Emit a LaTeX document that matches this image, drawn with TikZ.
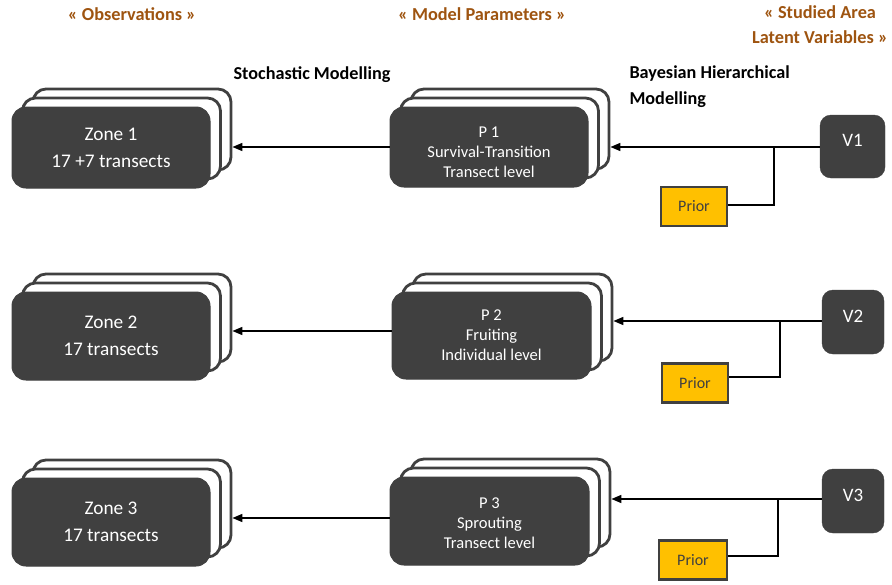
\documentclass[tikz,border=0pt]{standalone}
\usepackage{fontspec}
\setmainfont{Carlito}
\usetikzlibrary{arrows.meta}
\definecolor{dk}{HTML}{404040}
\definecolor{hd}{HTML}{9E5410}
\definecolor{pr}{HTML}{FFC000}
\tikzset{
 backbox/.style={draw=dk, fill=white, line width=2.8pt, rounded corners=13pt, inner sep=0pt},
 frontbox/.style={draw=dk, fill=dk, line width=1pt, rounded corners=14pt, text=white, align=center, inner sep=0pt},
 ztext/.style={font=\fontsize{19.3}{27}\selectfont},
 ptext/.style={font=\fontsize{16.5}{20}\selectfont},
 vbox/.style={draw=dk, fill=dk, rounded corners=11pt, text=white, font=\fontsize{19}{23}\selectfont, minimum width=62pt, minimum height=64pt, inner sep=0pt, text depth=12pt},
 priorbox/.style={draw=dk, fill=pr, line width=2.4pt, text=dk, font=\fontsize{16}{18}\selectfont, minimum width=66pt, minimum height=39pt, inner sep=0pt},
 conn/.style={line width=1.5pt, black},
 arr/.style={conn, -{Triangle[length=10pt,width=8pt]}},
 head/.style={text=hd, font=\bfseries\fontsize{18.3}{25}\selectfont, align=center},
 lab/.style={font=\bfseries\fontsize{18.2}{26}\selectfont, align=left},
}
\newcommand\mystack[7]{%
 \node[backbox, minimum width=#4pt, minimum height=#5pt] (#1c) at (#2+21,#3-18) {};
 \node[backbox, minimum width=#4pt, minimum height=#5pt] (#1b) at (#2+10.5,#3-9) {};
 \node[frontbox, minimum width=#4pt, minimum height=#5pt, #6] (#1) at (#2,#3) {#7};
}
\begin{document}
\begin{tikzpicture}[x=1pt,y=-1pt]
\useasboundingbox (0,0) rectangle (892,584);
% headings
\node[head] (h1) at (132,14) {« Observations »};
\node[head] (h2) at (482,14) {« Model Parameters »};
\node[head] (h3) at (820,25) {« Studied Area\\Latent Variables »};
\node[lab] (l1) at (312,75) {Stochastic Modelling};
\node[lab, anchor=west] (l2) at (626,87) {Bayesian Hierarchical\\Modelling};
% stacks
\mystack{z1}{111}{147.5}{198}{81}{ztext}{Zone 1\\17 +7 transects}
\mystack{p1}{489}{147}{198}{80}{ptext, text height=62pt}{P 1\\Survival-Transition\\Transect level}
\mystack{z2}{111}{336}{198}{88}{ztext}{Zone 2\\17 transects}
\mystack{p2}{491.5}{335.5}{199}{87}{ptext}{P 2\\Fruiting\\Individual level}
\mystack{z3}{111}{522}{198}{88}{ztext}{Zone 3\\17 transects}
\mystack{p3}{489.5}{521}{199}{88}{ptext, text height=56pt}{P 3\\Sprouting\\Transect level}
% V boxes
\node[vbox, minimum width=65pt, minimum height=63pt] (v1) at (852.5,146.5) {V1};
\node[vbox] (v2) at (853,322) {V2};
\node[vbox] (v3) at (853,501) {V3};
% priors
\node[priorbox] (pr1) at (694,206.5) {Prior};
\node[priorbox] (pr2) at (695,383) {Prior};
\node[priorbox, minimum width=68pt] (pr3) at (693,560) {Prior};
% junctions
\coordinate (j1) at (774,147);
\coordinate (j2) at (780,321);
\coordinate (j3) at (778,499);
% connectors row 1
\draw[arr] (v1.west |- j1) -- (j1 -| p1c.east);
\draw[conn] ([yshift=1.5pt]pr1.east) -| (j1);
\draw[arr] (p1.west) -- (p1.west -| z1c.east);
% row 2
\draw[arr] (v2.west |- j2) -- (j2 -| p2c.east);
\draw[conn] ([yshift=6pt]pr2.east) -| (j2);
\draw[arr] ([yshift=4.5pt]p2.west) -- ([yshift=4.5pt]p2.west -| z2c.east);
% row 3
\draw[arr] (v3.west |- j3) -- (j3 -| p3c.east);
\draw[conn] ([yshift=4pt]pr3.east) -| (j3);
\draw[arr] ([yshift=3pt]p3.west) -- ([yshift=3pt]p3.west -| z3c.east);
\end{tikzpicture}
\end{document}
